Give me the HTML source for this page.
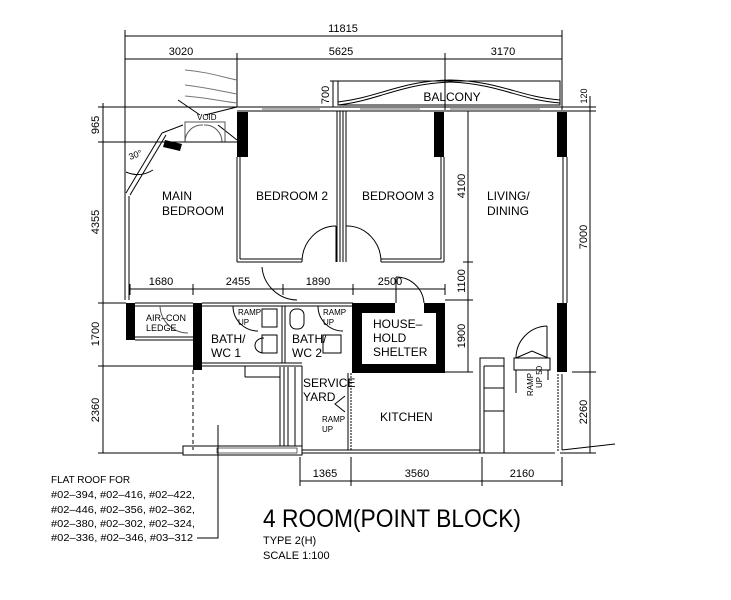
<!DOCTYPE html>
<html><head><meta charset="utf-8"><style>
html,body{margin:0;padding:0;background:#fff;}
svg{display:block;}
text{font-family:"Liberation Sans",sans-serif;fill:#000;}
</style></head><body>
<svg width="731" height="600" viewBox="0 0 731 600" xmlns="http://www.w3.org/2000/svg">
<g stroke="#000" stroke-width="1" fill="none">
<!-- top dims -->
<line x1="125" y1="36" x2="562" y2="36"/>
<line x1="125" y1="59" x2="562" y2="59"/>
<line x1="125" y1="30" x2="125" y2="300"/>
<line x1="562" y1="30" x2="562" y2="110"/>
<line x1="237" y1="53" x2="237" y2="107"/>
<line x1="445" y1="53" x2="445" y2="110"/>
<!-- left dims -->
<line x1="103" y1="103" x2="103" y2="453"/>
<line x1="98" y1="107" x2="237" y2="107"/>
<line x1="98" y1="142" x2="180" y2="142"/>
<line x1="98" y1="303" x2="126" y2="303"/>
<line x1="98" y1="366" x2="193" y2="366"/>
<line x1="98" y1="453" x2="183" y2="453"/>
<!-- outer top wall -->
<line x1="237" y1="107" x2="567" y2="107"/>
<line x1="237" y1="111" x2="567" y2="111"/>
<line x1="262" y1="109" x2="320" y2="109" stroke="#666"/>
<line x1="360" y1="109" x2="420" y2="109" stroke="#666"/>
<line x1="450" y1="109" x2="540" y2="109" stroke="#666"/>
<!-- balcony -->
<rect x="338" y="81" width="222" height="24"/>
<path d="M338 105 C380 100,400 84,450 82 C500 84,520 100,560 103"/>
<path d="M338 102 C380 97,400 81,450 80 C500 81,520 97,560 100"/>
<line x1="330" y1="81" x2="338" y2="81"/><line x1="333" y1="81" x2="333" y2="107"/>
<!-- void curves -->
<path d="M185 70 C210 72,225 78,237 80" stroke="#777"/>
<path d="M185 85 C210 88,225 92,237 94" stroke="#777"/>
<path d="M185 96 C210 98,225 102,237 103" stroke="#777"/>
<line x1="178" y1="100" x2="200" y2="115"/>
<line x1="205" y1="115" x2="237" y2="107"/>
<line x1="162" y1="133" x2="183" y2="125"/>
<line x1="218" y1="125" x2="237" y2="140"/>
<rect x="185" y="122" width="40" height="20" stroke="#555"/>
<path d="M185 142 A17 17 0 0 1 203 125 M222 142 A17 17 0 0 0 204 125" stroke="#555"/>
<line x1="180" y1="142" x2="237" y2="142"/>
<!-- diagonal wall -->
<line x1="126" y1="193" x2="162" y2="133"/>
<line x1="130" y1="195" x2="166" y2="135"/>
<path d="M126 172 Q140 178,153 170"/>
<line x1="125" y1="193" x2="125" y2="300"/><line x1="129" y1="196" x2="129" y2="300"/>
<!-- bedroom 2/3 -->
<line x1="237" y1="157" x2="237" y2="262"/><line x1="240" y1="157" x2="240" y2="259"/>
<line x1="237" y1="262" x2="302" y2="262"/><line x1="240" y1="259" x2="302" y2="259"/>
<line x1="337" y1="111" x2="337" y2="262"/><line x1="340" y1="111" x2="340" y2="262"/>
<line x1="343" y1="111" x2="343" y2="262"/><line x1="346" y1="111" x2="346" y2="262"/>
<line x1="336" y1="226" x2="336" y2="262"/>
<path d="M302 262 A34 36 0 0 1 336 226"/>
<path d="M381 262 A34 36 0 0 0 346 226"/>
<line x1="381" y1="262" x2="444" y2="262"/><line x1="381" y1="259" x2="441" y2="259"/>
<line x1="441" y1="157" x2="441" y2="259"/><line x1="444" y1="157" x2="444" y2="262"/>
<path d="M262 267 A36 36 0 0 0 297 300"/>
<!-- living dims -->
<line x1="468" y1="111" x2="468" y2="372"/>
<line x1="463" y1="262" x2="473" y2="262"/>
<line x1="445" y1="300" x2="473" y2="300"/>
<line x1="445" y1="372" x2="473" y2="372"/>
<line x1="563" y1="157" x2="563" y2="303"/><line x1="567" y1="157" x2="567" y2="303"/>
<line x1="590" y1="96" x2="590" y2="453"/>
<line x1="567" y1="111" x2="596" y2="111"/><line x1="567" y1="107" x2="596" y2="107"/>
<line x1="572" y1="372" x2="596" y2="372"/>
<line x1="560" y1="453" x2="596" y2="453"/>
<!-- row dims -->
<line x1="130" y1="289" x2="445" y2="289"/>
<line x1="130" y1="284" x2="130" y2="295"/><line x1="193" y1="284" x2="193" y2="295"/>
<line x1="283" y1="284" x2="283" y2="295"/><line x1="353" y1="284" x2="353" y2="295"/>
<line x1="445" y1="284" x2="445" y2="295"/>
<!-- aircon -->
<line x1="135" y1="303" x2="193" y2="303"/><line x1="135" y1="306" x2="193" y2="306"/>
<line x1="135" y1="337" x2="193" y2="337"/><line x1="135" y1="340" x2="193" y2="340"/>
<path d="M160 306 A28 28 0 0 0 188 333" stroke="#555"/>
<!-- baths -->
<line x1="202" y1="303" x2="353" y2="303"/><line x1="202" y1="306" x2="353" y2="306"/>
<line x1="202" y1="363" x2="302" y2="363"/><line x1="202" y1="366" x2="302" y2="366"/>
<line x1="282" y1="306" x2="282" y2="363"/><line x1="285" y1="306" x2="285" y2="363"/>
<path d="M233 306 A25 25 0 0 0 258 331"/>
<path d="M318 306 A25 25 0 0 0 343 331"/>
<rect x="262" y="309" width="15" height="18"/>
<rect x="262" y="335" width="15" height="18"/>
<path d="M264 338 C252 338,252 353,264 353"/>
<rect x="290" y="309" width="14" height="20" rx="6"/>
<rect x="323" y="335" width="18" height="18"/>
<!-- lower left -->
<line x1="193" y1="370" x2="193" y2="450" stroke-dasharray="4,3"/>
<line x1="245" y1="366" x2="245" y2="377"/><line x1="245" y1="377" x2="280" y2="377"/>
<line x1="280" y1="367" x2="280" y2="446"/><line x1="284" y1="367" x2="284" y2="446"/>
<line x1="288" y1="367" x2="288" y2="446"/><line x1="295" y1="367" x2="295" y2="446"/>
<rect x="183" y="446" width="119" height="9"/>
<line x1="302" y1="366" x2="302" y2="453"/>
<line x1="302" y1="453" x2="480" y2="453"/><line x1="302" y1="450" x2="480" y2="450"/>
<!-- service yard -->
<line x1="351" y1="373" x2="351" y2="450" stroke-dasharray="2,1"/>
<line x1="348" y1="373" x2="348" y2="450"/>
<path d="M345 396 L335 404 L345 412"/>
<!-- stairs -->
<rect x="480" y="358" width="24" height="95"/>
<line x1="484" y1="366" x2="504" y2="366"/>
<line x1="484" y1="366" x2="484" y2="453"/>
<line x1="484" y1="388" x2="504" y2="388"/><line x1="484" y1="411" x2="504" y2="411"/>
<line x1="480" y1="453" x2="555" y2="453"/>
<line x1="558" y1="374" x2="558" y2="451" stroke-dasharray="2,1"/>
<line x1="562" y1="374" x2="562" y2="450"/>
<line x1="562" y1="450" x2="615" y2="444"/>
<!-- ramp door -->
<rect x="514" y="358" width="36" height="12"/>
<path d="M516 358 L532 351 L548 358"/>
<path d="M516 358 A32 32 0 0 1 547 326"/><line x1="547" y1="326" x2="547" y2="358"/>
<line x1="516" y1="370" x2="516" y2="393"/><line x1="548" y1="370" x2="548" y2="380"/>
<!-- shelter door -->
<line x1="396" y1="277" x2="396" y2="303"/>
<path d="M396 277 A28 28 0 0 1 424 303"/>
<!-- bottom dims -->
<line x1="300" y1="481" x2="562" y2="481"/>
<line x1="300" y1="457" x2="300" y2="486"/><line x1="351" y1="457" x2="351" y2="486"/>
<line x1="482" y1="457" x2="482" y2="486"/><line x1="562" y1="457" x2="562" y2="486"/>
<!-- leader -->
<polyline points="197,538 218,538 218,425"/>
</g>
<g fill="#000" stroke="none">
<rect x="237" y="112" width="11" height="45"/>
<rect x="434" y="112" width="10" height="45"/>
<rect x="557" y="112" width="10" height="45"/>
<polygon points="165,140 182,144 180,151 163,147"/>
<rect x="126" y="303" width="9" height="37"/>
<rect x="193" y="303" width="9" height="67"/>
<rect x="557" y="303" width="10" height="69"/>
<path d="M352 303 H395 V313 H362 V364 H436 V313 H424 V303 H445 V373 H352 Z"/>
<rect x="217" y="448" width="80" height="5" fill="none" stroke="#000" stroke-width="0.6"/>
</g>
<g font-size="11">
<text x="343" y="32" text-anchor="middle">11815</text>
<text x="181" y="55" text-anchor="middle">3020</text>
<text x="341" y="55" text-anchor="middle">5625</text>
<text x="503" y="55" text-anchor="middle">3170</text>
<text x="452" y="101" font-size="12" text-anchor="middle">BALCONY</text>
<text x="162" y="200" font-size="12">MAIN</text>
<text x="162" y="215" font-size="12">BEDROOM</text>
<text x="256" y="200" font-size="12">BEDROOM  2</text>
<text x="362" y="200" font-size="12">BEDROOM  3</text>
<text x="487" y="200" font-size="12">LIVING/</text>
<text x="487" y="215" font-size="12">DINING</text>
<text x="161" y="285" text-anchor="middle">1680</text>
<text x="238" y="285" text-anchor="middle">2455</text>
<text x="318" y="285" text-anchor="middle">1890</text>
<text x="390" y="285" text-anchor="middle">2500</text>
<text x="146" y="321" font-size="9">AIR–CON</text>
<text x="146" y="331" font-size="9">LEDGE</text>
<text x="238" y="315" font-size="8">RAMP</text><text x="238" y="325" font-size="8">UP</text>
<text x="323" y="315" font-size="8">RAMP</text><text x="323" y="325" font-size="8">UP</text>
<text x="211" y="343" font-size="12">BATH/</text><text x="211" y="357" font-size="12">WC  1</text>
<text x="292" y="343" font-size="12">BATH/</text><text x="292" y="357" font-size="12">WC  2</text>
<text x="373" y="328" font-size="12">HOUSE–</text>
<text x="373" y="342" font-size="12">HOLD</text>
<text x="373" y="356" font-size="12">SHELTER</text>
<text x="303" y="387" font-size="12">SERVICE</text>
<text x="303" y="401" font-size="12">YARD</text>
<text x="322" y="422" font-size="8">RAMP</text><text x="322" y="432" font-size="8">UP</text>
<text x="380" y="421" font-size="12">KITCHEN</text>
<text x="325" y="477" text-anchor="middle">1365</text>
<text x="417" y="477" text-anchor="middle">3560</text>
<text x="522" y="477" text-anchor="middle">2160</text>
<text transform="translate(99,125) rotate(-90)" text-anchor="middle">965</text>
<text transform="translate(99,222) rotate(-90)" text-anchor="middle">4355</text>
<text transform="translate(99,334) rotate(-90)" text-anchor="middle">1700</text>
<text transform="translate(99,410) rotate(-90)" text-anchor="middle">2360</text>
<text transform="translate(329,95) rotate(-90)" text-anchor="middle">700</text>
<text transform="translate(465,186) rotate(-90)" text-anchor="middle">4100</text>
<text transform="translate(465,281) rotate(-90)" text-anchor="middle">1100</text>
<text transform="translate(465,336) rotate(-90)" text-anchor="middle">1900</text>
<text transform="translate(587,237) rotate(-90)" text-anchor="middle">7000</text>
<text transform="translate(587,412) rotate(-90)" text-anchor="middle">2260</text>
<text transform="translate(587,96) rotate(-90)" text-anchor="middle" font-size="9">120</text>
<text transform="translate(533,396) rotate(-90)" font-size="8">RAMP</text>
<text transform="translate(542,388) rotate(-90)" font-size="8">UP 50</text>
<text transform="translate(130,160) rotate(-20)" font-size="9">30°</text>
<text x="197" y="120" font-size="8">VOID</text>
<text x="51" y="483" font-size="10">FLAT ROOF FOR</text>
<text x="51" y="498" font-size="10" textLength="144" lengthAdjust="spacingAndGlyphs">#02–394, #02–416, #02–422,</text>
<text x="51" y="513" font-size="10" textLength="144" lengthAdjust="spacingAndGlyphs">#02–446, #02–356, #02–362,</text>
<text x="51" y="527" font-size="10" textLength="144" lengthAdjust="spacingAndGlyphs">#02–380, #02–302, #02–324,</text>
<text x="51" y="541" font-size="10" textLength="142" lengthAdjust="spacingAndGlyphs">#02–336, #02–346, #03–312</text>
<text x="263" y="527" font-size="25" textLength="258" lengthAdjust="spacingAndGlyphs">4 ROOM(POINT BLOCK)</text>
<text x="263" y="544" font-size="11">TYPE 2(H)</text>
<text x="263" y="559" font-size="11">SCALE 1:100</text>
</g>
</svg>
</body></html>
